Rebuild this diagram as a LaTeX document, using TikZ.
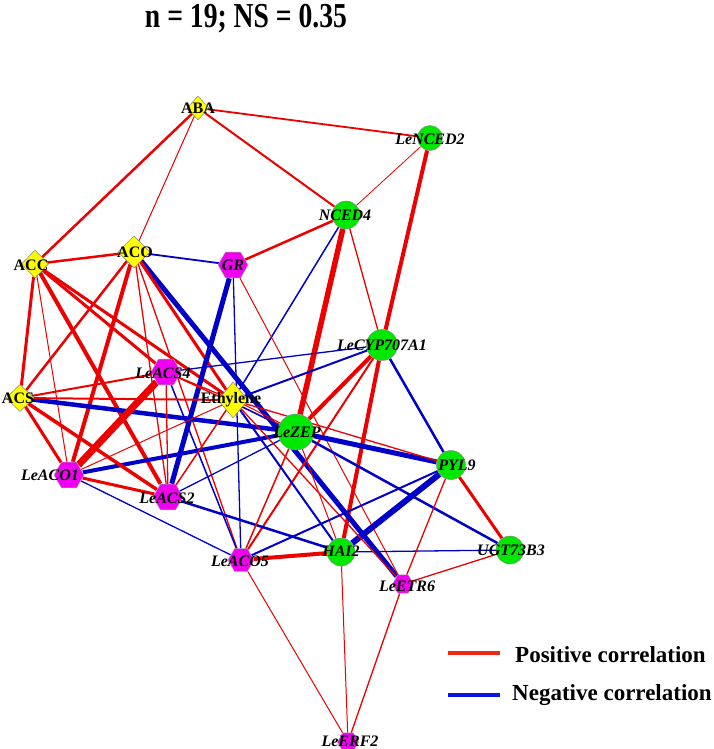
\documentclass[tikz,border=0pt]{standalone}
\usepackage{fontspec}
\setmainfont{Liberation Serif}
\newfontfamily\titlefont{Liberation Serif}[FakeStretch=0.79]
\usetikzlibrary{shapes.geometric}
\pgfdeclarelayer{bg}
\pgfsetlayers{bg,main}
\definecolor{ered}{RGB}{236,0,0}
\definecolor{eblue}{RGB}{0,0,200}
\definecolor{ngreen}{RGB}{0,232,0}
\definecolor{nmag}{RGB}{240,0,240}
\definecolor{nyel}{RGB}{255,255,0}
\definecolor{legred}{RGB}{240,40,20}
\definecolor{legblue}{RGB}{10,20,225}
\tikzset{
  gene/.style={circle, draw=black!45, line width=0.5pt, fill=ngreen, inner sep=0pt, minimum size=#1},
  hexn/.style={regular polygon, regular polygon sides=6, draw=black!35, line width=0.5pt, fill=nmag, inner sep=0pt, minimum size=#1},
  dia/.style 2 args={diamond, draw=black!50, line width=0.5pt, fill=nyel, inner sep=0pt, minimum width=#1, minimum height=#2},
  glab/.style={font=\fontsize{16}{18}\selectfont\bfseries\itshape, inner sep=0pt},
  hlab/.style={font=\fontsize{16}{18}\selectfont\bfseries, inner sep=0pt},
  redw/.style={draw=ered, line width=#1},
  bluw/.style={draw=eblue, line width=#1},
}
\begin{document}
\begin{tikzpicture}[x=1pt,y=-1pt]
\useasboundingbox (0,0) rectangle (714,749);
% title
\node[anchor=base, inner sep=0pt] (title) at (246,28) {\titlefont\fontsize{35}{38}\selectfont\bfseries n = 19; NS = 0.35};
% nodes
\node[dia={22pt}{24pt}] (ABA) at (198,108) {};
\node[gene=25pt] (LeNCED2) at (430,138) {};
\node[gene=28pt] (NCED4) at (346,215) {};
\node[dia={27pt}{28pt}] (ACC) at (35,264) {};
\node[dia={32pt}{32pt}] (ACO) at (134,252) {};
\node[hexn=30pt] (GR) at (233,265) {};
\node[gene=31pt] (LeCYP) at (382,345) {};
\node[hexn=30pt] (LeACS4) at (166,372) {};
\node[dia={28pt}{27pt}] (ACS) at (20,398) {};
\node[dia={30pt}{36pt}] (Ethylene) at (233,400) {};
\node[gene=36pt] (LeZEP) at (296,432) {};
\node[gene=29pt] (PYL9) at (451,465) {};
\node[hexn=30pt] (LeACO1) at (69,475) {};
\node[hexn=30pt] (LeACS2) at (168,497) {};
\node[hexn=26pt] (LeACO5) at (241,560) {};
\node[gene=28pt] (HAI2) at (341,552) {};
\node[gene=28pt] (UGT) at (510,550) {};
\node[hexn=21pt] (LeETR6) at (403,584) {};
\node[hexn=21pt] (LeERF2) at (348,742) {};
% edges
\begin{pgfonlayer}{bg}
\draw[redw=1.8pt] (ABA) -- (LeNCED2);
\draw[redw=2.5pt] (ABA) -- (ACC);
\draw[redw=1pt] (ABA) -- (ACO);
\draw[redw=2pt] (ABA) -- (NCED4);
\draw[redw=0.8pt] (LeNCED2) -- (NCED4);
\draw[redw=4pt] (LeNCED2) -- (LeCYP);
\draw[redw=4pt] (LeCYP) -- (HAI2);
\draw[redw=2.5pt] (NCED4) -- (GR);
\draw[redw=5.5pt] (NCED4) -- (LeZEP);
\draw[redw=1.3pt] (NCED4) -- (LeCYP);
\draw[bluw=1.5pt] (NCED4) -- (Ethylene);
\draw[redw=2.5pt] (ACC) -- (ACO);
\draw[redw=3pt] (ACC) -- (ACS);
\draw[redw=1pt] (ACC) -- (LeACO1);
\draw[redw=4pt] (ACC) -- (LeACS2);
\draw[redw=3pt] (ACC) -- (LeACS4);
\draw[redw=3pt] (ACC) -- (Ethylene);
\draw[bluw=1.8pt] (ACO) -- (GR);
\draw[bluw=5pt] (ACO) -- (LeETR6);
\draw[redw=4pt] (ACO) -- (LeACO1);
\draw[redw=2.5pt] (ACO) -- (ACS);
\draw[redw=1.3pt] (ACO) -- (LeACS2);
\draw[redw=1.3pt] (ACO) -- (LeACO5);
\draw[redw=3pt] (ACO) -- (Ethylene);
\draw[bluw=5pt] (GR) -- (LeACS2);
\draw[bluw=1.3pt] (GR) -- (LeACO5);
\draw[redw=1pt] (GR) -- (LeETR6);
\draw[bluw=2.5pt] (LeCYP) -- (PYL9);
\draw[bluw=1.3pt] (LeCYP) -- (LeACS4);
\draw[bluw=2pt] (LeCYP) -- (Ethylene);
\draw[redw=4pt] (LeCYP) -- (LeZEP);
\draw[redw=2pt] (LeCYP) -- (LeACO5);
\draw[bluw=4.5pt] (LeZEP) -- (ACS);
\draw[bluw=4pt] (LeZEP) -- (LeACO1);
\draw[bluw=5pt] (LeZEP) -- (PYL9);
\draw[redw=1.3pt] (Ethylene) -- (PYL9);
\draw[bluw=1.3pt] (LeZEP) -- (LeACS2);
\draw[bluw=2.5pt] (LeACS2) -- (HAI2);
\draw[bluw=2.5pt] (LeZEP) -- (UGT);
\draw[redw=1.5pt] (LeZEP) -- (LeACO5);
\draw[redw=1pt] (LeZEP) -- (HAI2);
\draw[bluw=2pt] (Ethylene) -- (HAI2);
\draw[bluw=6pt] (PYL9) -- (HAI2);
\draw[bluw=1.3pt] (HAI2) -- (UGT);
\draw[redw=4pt] (HAI2) -- (LeACO5);
\draw[redw=1pt] (HAI2) -- (LeERF2);
\draw[redw=1.3pt] (Ethylene) -- (LeETR6);
\draw[redw=1.3pt] (LeETR6) -- (UGT);
\draw[redw=1.3pt] (LeETR6) -- (PYL9);
\draw[redw=1.3pt] (LeETR6) -- (LeERF2);
\draw[redw=1pt] (LeACO5) -- (LeERF2);
\draw[bluw=1.3pt] (LeACO1) -- (LeACO5);
\draw[bluw=1.5pt] (LeACS4) -- (LeACO5);
\draw[bluw=2pt] (LeACO5) -- (PYL9);
\draw[redw=3.5pt] (ACS) -- (LeACS2);
\draw[redw=3pt] (LeACO1) -- (LeACS2);
\draw[redw=1.3pt] (LeACS4) -- (LeACS2);
\draw[redw=1.5pt] (LeACS2) -- (Ethylene);
\draw[redw=7pt] (LeACO1) -- (LeACS4);
\draw[redw=3pt] (ACS) -- (LeACO1);
\draw[redw=1pt] (LeACO1) -- (Ethylene);
\draw[redw=2pt] (ACS) -- (LeACS4);
\draw[redw=2pt] (ACS) -- (Ethylene);
\draw[redw=1.3pt] (LeACS4) -- (Ethylene);
\draw[redw=1.3pt] (LeACS4) -- (LeZEP);
\draw[bluw=1.3pt] ([yshift=-2pt]Ethylene.center) -- ([yshift=-2pt]LeZEP.center);
\draw[redw=1pt] ([yshift=1pt]Ethylene.center) -- ([yshift=1pt]LeZEP.center);
\draw[redw=3pt] (PYL9) -- (UGT);
\end{pgfonlayer}
% labels
\node[hlab] (tABA) at (198,108) {ABA};
\node[glab] (tLeNCED2) at (430,139) {LeNCED2};
\node[glab] (tNCED4) at (345,215) {NCED4};
\node[hlab] (tACC) at (31,265) {ACC};
\node[hlab] (tACO) at (135,252) {ACO};
\node[glab] (tGR) at (233,265) {GR};
\node[glab] (tLeCYP) at (382,345) {LeCYP707A1};
\node[glab] (tLeACS4) at (163,373) {LeACS4};
\node[hlab] (tACS) at (18,398) {ACS};
\node[hlab] (tEthylene) at (231,400) {Ethylene};
\node[glab] (tLeZEP) at (297,432) {LeZEP};
\node[glab] (tPYL9) at (457,465) {PYL9};
\node[glab] (tLeACO1) at (50,475) {LeACO1};
\node[glab] (tLeACS2) at (167,498) {LeACS2};
\node[glab] (tLeACO5) at (240,561) {LeACO5};
\node[glab] (tHAI2) at (341,551) {HAI2};
\node[glab] (tUGT) at (511,550) {UGT73B3};
\node[glab] (tLeETR6) at (407,586) {LeETR6};
\node[glab] (tLeERF2) at (350,741) {LeERF2};
% legend
\coordinate (lr1) at (448,653); \coordinate (lr2) at (500,653);
\coordinate (lb1) at (448,695); \coordinate (lb2) at (500,695);
\draw[draw=legred, line width=4pt] (lr1) -- (lr2);
\draw[draw=legblue, line width=4pt] (lb1) -- (lb2);
\node[anchor=base west, inner sep=0pt, font=\fontsize{23}{26}\selectfont\bfseries] (legpos) at (515,662) {Positive correlation};
\node[anchor=base west, inner sep=0pt, font=\fontsize{23}{26}\selectfont\bfseries] (legneg) at (512,700) {Negative correlation};
\end{tikzpicture}
\end{document}
